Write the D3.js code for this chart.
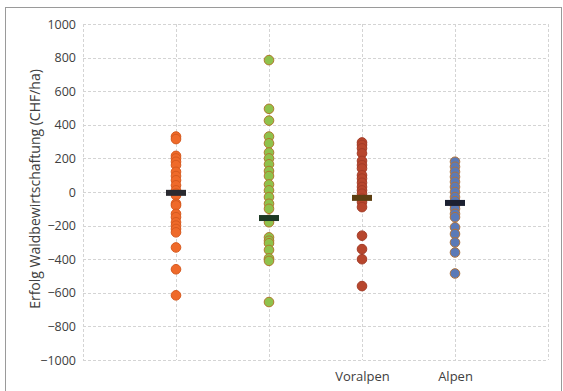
<!DOCTYPE html>
<html>
<head>
<meta charset="utf-8">
<script src="https://cdn.jsdelivr.net/npm/d3@7"></script>
<style>
  body { margin: 0; background: #fff; }
  svg { display: block; }
  text { font-family: "Open Sans", "Noto Sans", sans-serif; fill: #404040; }
</style>
</head>
<body>
<svg id="chart" width="563" height="391"></svg>
<script>
// Données
var categoryLabels = ["", "", "Voralpen", "Alpen"];
var yTicks = [-1000, -800, -600, -400, -200, 0, 200, 400, 600, 800, 1000];

var valuesCol1 = [330, 315, 215, 200, 180, 160, 120, 95, 70, 40, 10, -10, -20, -70, -80, -130, -150, -180, -200, -220, -240, -330, -460, -615];
var valuesCol2 = [785, 495, 425, 330, 290, 235, 200, 165, 125, 95, 45, 10, -30, -70, -100, -165, -180, -270, -290, -305, -345, -395, -410, -655];
var valuesCol3 = [295, 280, 260, 230, 185, 160, 140, 100, 80, 55, 30, 10, -10, -40, -60, -90, -260, -340, -400, -560];
var valuesCol4 = [180, 150, 120, 90, 60, 30, 0, -30, -55, -80, -100, -130, -150, -210, -250, -300, -360, -485];
var means = [-5, -155, -35, -65];

var fills = ["#ef6a2a", "#8fc24c", "#b7462d", "#5b7ab7"];
var strokes = ["#d65a1f", "#b0782c", "#a43c27", "#b0723a"];
var meanColors = ["#2a2a30", "#1d3a25", "#5d3f12", "#1c2031"];

var series = [valuesCol1, valuesCol2, valuesCol3, valuesCol4];

// Dimensions
var margin = { top: 24, right: 15, bottom: 31, left: 83 };
var width = 563 - margin.left - margin.right;
var height = 391 - margin.top - margin.bottom;

var svg = d3.select("#chart");

// cadre extérieur
svg.append("rect")
  .attr("x", 5.5).attr("y", 7.5)
  .attr("width", 556).attr("height", 400)
  .attr("fill", "none")
  .attr("stroke", "#9a9a9a")
  .attr("stroke-width", 1);

var g = svg.append("g")
  .attr("transform", "translate(" + margin.left + "," + margin.top + ")");

var x = d3.scaleLinear().domain([0, 5]).range([0, width]);
var y = d3.scaleLinear().domain([-1000, 1000]).range([height, 0]);

// grille horizontale
g.append("g")
  .selectAll("line")
  .data(yTicks)
  .enter().append("line")
  .attr("x1", 0).attr("x2", width)
  .attr("y1", function(d) { return Math.round(y(d)) + 0.5; })
  .attr("y2", function(d) { return Math.round(y(d)) + 0.5; })
  .attr("stroke", "#d4d4d4")
  .attr("stroke-dasharray", "3,2");

// grille verticale
g.append("g")
  .selectAll("line")
  .data(d3.range(0, 6))
  .enter().append("line")
  .attr("y1", 0).attr("y2", height)
  .attr("x1", function(d) { return Math.round(x(d)) + 0.5; })
  .attr("x2", function(d) { return Math.round(x(d)) + 0.5; })
  .attr("stroke", "#d4d4d4")
  .attr("stroke-dasharray", "3,2");

// axe Y
var yAxis = d3.axisLeft(y).tickValues(yTicks).tickSize(0).tickPadding(7)
  .tickFormat(function(d) { return d < 0 ? "\u2212" + Math.abs(d) : d; });
g.append("g")
  .call(yAxis)
  .call(function(s) { s.select(".domain").remove(); })
  .selectAll("text")
  .style("font-size", "12.5px")
  .attr("fill", "#404040");

// axe X (catégories)
var xAxis = d3.axisBottom(x).tickValues([1, 2, 3, 4]).tickSize(0).tickPadding(12)
  .tickFormat(function(d) { return categoryLabels[d - 1]; });
g.append("g")
  .attr("transform", "translate(0," + height + ")")
  .call(xAxis)
  .call(function(s) { s.select(".domain").remove(); })
  .selectAll("text")
  .style("font-size", "13px")
  .attr("fill", "#404040");

// titre axe Y
svg.append("text")
  .attr("transform", "translate(40," + (margin.top + height / 2 - 3) + ") rotate(-90)")
  .attr("text-anchor", "middle")
  .style("font-size", "14px")
  .text("Erfolg Waldbewirtschaftung (CHF/ha)");

// points
series.forEach(function(vals, i) {
  g.append("g")
    .selectAll("circle")
    .data(vals)
    .enter().append("circle")
    .attr("cx", x(i + 1))
    .attr("cy", function(d) { return y(d); })
    .attr("r", 4.8)
    .attr("fill", fills[i])
    .attr("stroke", strokes[i])
    .attr("stroke-width", 1);
});

// moyennes
g.append("g")
  .selectAll("rect")
  .data(means)
  .enter().append("rect")
  .attr("x", function(d, i) { return x(i + 1) - 10; })
  .attr("y", function(d) { return y(d) - 3; })
  .attr("width", 20)
  .attr("height", 6)
  .attr("fill", function(d, i) { return meanColors[i]; });
</script>
</body>
</html>
